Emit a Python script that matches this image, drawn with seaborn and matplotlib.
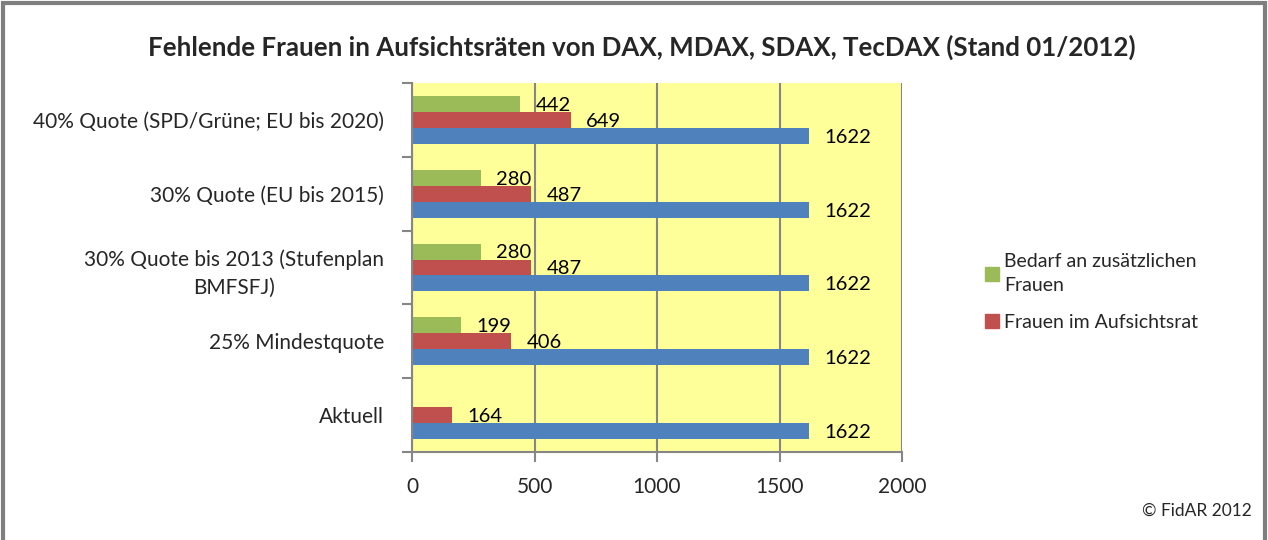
"""Fehlende Frauen in Aufsichtsräten – horizontal grouped bars."""

import matplotlib
matplotlib.use("Agg")
import matplotlib.pyplot as plt
import matplotlib.patches as mpatches
import numpy as np
import pandas as pd
import seaborn as sns

# -------------------------------------------------------------------------
# Data (top to bottom as in the chart)
# -------------------------------------------------------------------------
categories = [
    "40% Quote (SPD/Grüne; EU bis 2020)",
    "30% Quote (EU bis 2015)",
    "30% Quote bis 2013 (Stufenplan\nBMFSFJ)",
    "25% Mindestquote",
    "Aktuell",
]
bedarf = [442, 280, 280, 199, np.nan]
frauen = [649, 487, 487, 406, 164]
gesamt = [1622, 1622, 1622, 1622, 1622]

series_names = ["Bedarf an zusätzlichen\nFrauen", "Frauen im Aufsichtsrat", "Aufsichtsratsmitglieder"]
series_colors = ["#9BBB59", "#C0504D", "#4F81BD"]

df = pd.DataFrame({
    "kategorie": categories * 3,
    "serie": [series_names[0]] * 5 + [series_names[1]] * 5 + [series_names[2]] * 5,
    "wert": bedarf + frauen + gesamt,
})

sns.set_style("white")
plt.rcParams["font.family"] = ["Lato", "DejaVu Sans"]

fig = plt.figure(figsize=(12.68, 5.4), dpi=100)
ax = fig.add_axes([412 / 1268, 1 - 452 / 540, 490 / 1268, 369 / 540])
ax.set_facecolor("#FFFF99")

sns.barplot(
    data=df, y="kategorie", x="wert", hue="serie",
    order=categories, hue_order=series_names,
    palette=series_colors, orient="h", width=0.65,
    saturation=1, ax=ax, legend=False, linewidth=0,
)

# value labels
for container in ax.containers:
    for rect in container:
        w = rect.get_width()
        if not np.isfinite(w) or w == 0:
            continue
        ax.annotate(
            f"{int(round(w))}",
            xy=(w, rect.get_y() + rect.get_height() / 2),
            xytext=(11, -1), textcoords="offset points",
            ha="left", va="center", fontsize=14.5, color="black",
        )

ax.set_xlim(0, 2000)
ax.set_xticks([0, 500, 1000, 1500, 2000])
ax.set_ylim(4.5, -0.5)
ax.set_xlabel("")
ax.set_ylabel("")

ax.grid(axis="x", color="#868686", linewidth=1.5)
ax.grid(axis="y", visible=False)
ax.set_axisbelow(True)

for side in ["top", "right"]:
    ax.spines[side].set_visible(False)
for side in ["left", "bottom"]:
    ax.spines[side].set_color("#868686")
    ax.spines[side].set_linewidth(1.5)

ax.tick_params(axis="x", which="major", direction="out", length=7, width=1.5,
               color="#868686", labelsize=15, pad=11, bottom=True)
ax.set_yticks(np.arange(-0.5, 5, 1), minor=True)
ax.tick_params(axis="y", which="minor", direction="out", length=7, width=1.5,
               color="#868686", left=True)
ax.tick_params(axis="y", which="major", length=0, labelsize=15, pad=20)
for lbl in ax.get_yticklabels():
    lbl.set_multialignment("center")
    lbl.set_linespacing(1.5)

fig.suptitle(
    "Fehlende Frauen in Aufsichtsräten von DAX, MDAX, SDAX, TecDAX (Stand 01/2012)",
    x=0.506, y=1 - 47 / 540, va="center", fontsize=18.6, fontweight="bold",
)

handles = [mpatches.Patch(color=c, label=n) for c, n in zip(series_colors[:2], series_names[:2])]
leg = fig.legend(
    handles=handles, loc="upper left", bbox_to_anchor=(975 / 1268, 1 - 243 / 540),
    frameon=False, fontsize=14, handlelength=0.75, handleheight=0.75,
    handletextpad=0.25, labelspacing=1.0, borderpad=0,
)
for txt in leg.get_texts():
    txt.set_linespacing(1.55)

fig.text(1252 / 1268, 1 - 511 / 540, "© FidAR 2012", ha="right", va="center", fontsize=12.5)

# outer grey frame
fig.patches.append(mpatches.Rectangle(
    (0.002, -0.02), 0.996, 1.015, transform=fig.transFigure,
    fill=False, edgecolor="#7F7F7F", linewidth=3,
))

fig.savefig("out.png", dpi=100)
plt.close(fig)
